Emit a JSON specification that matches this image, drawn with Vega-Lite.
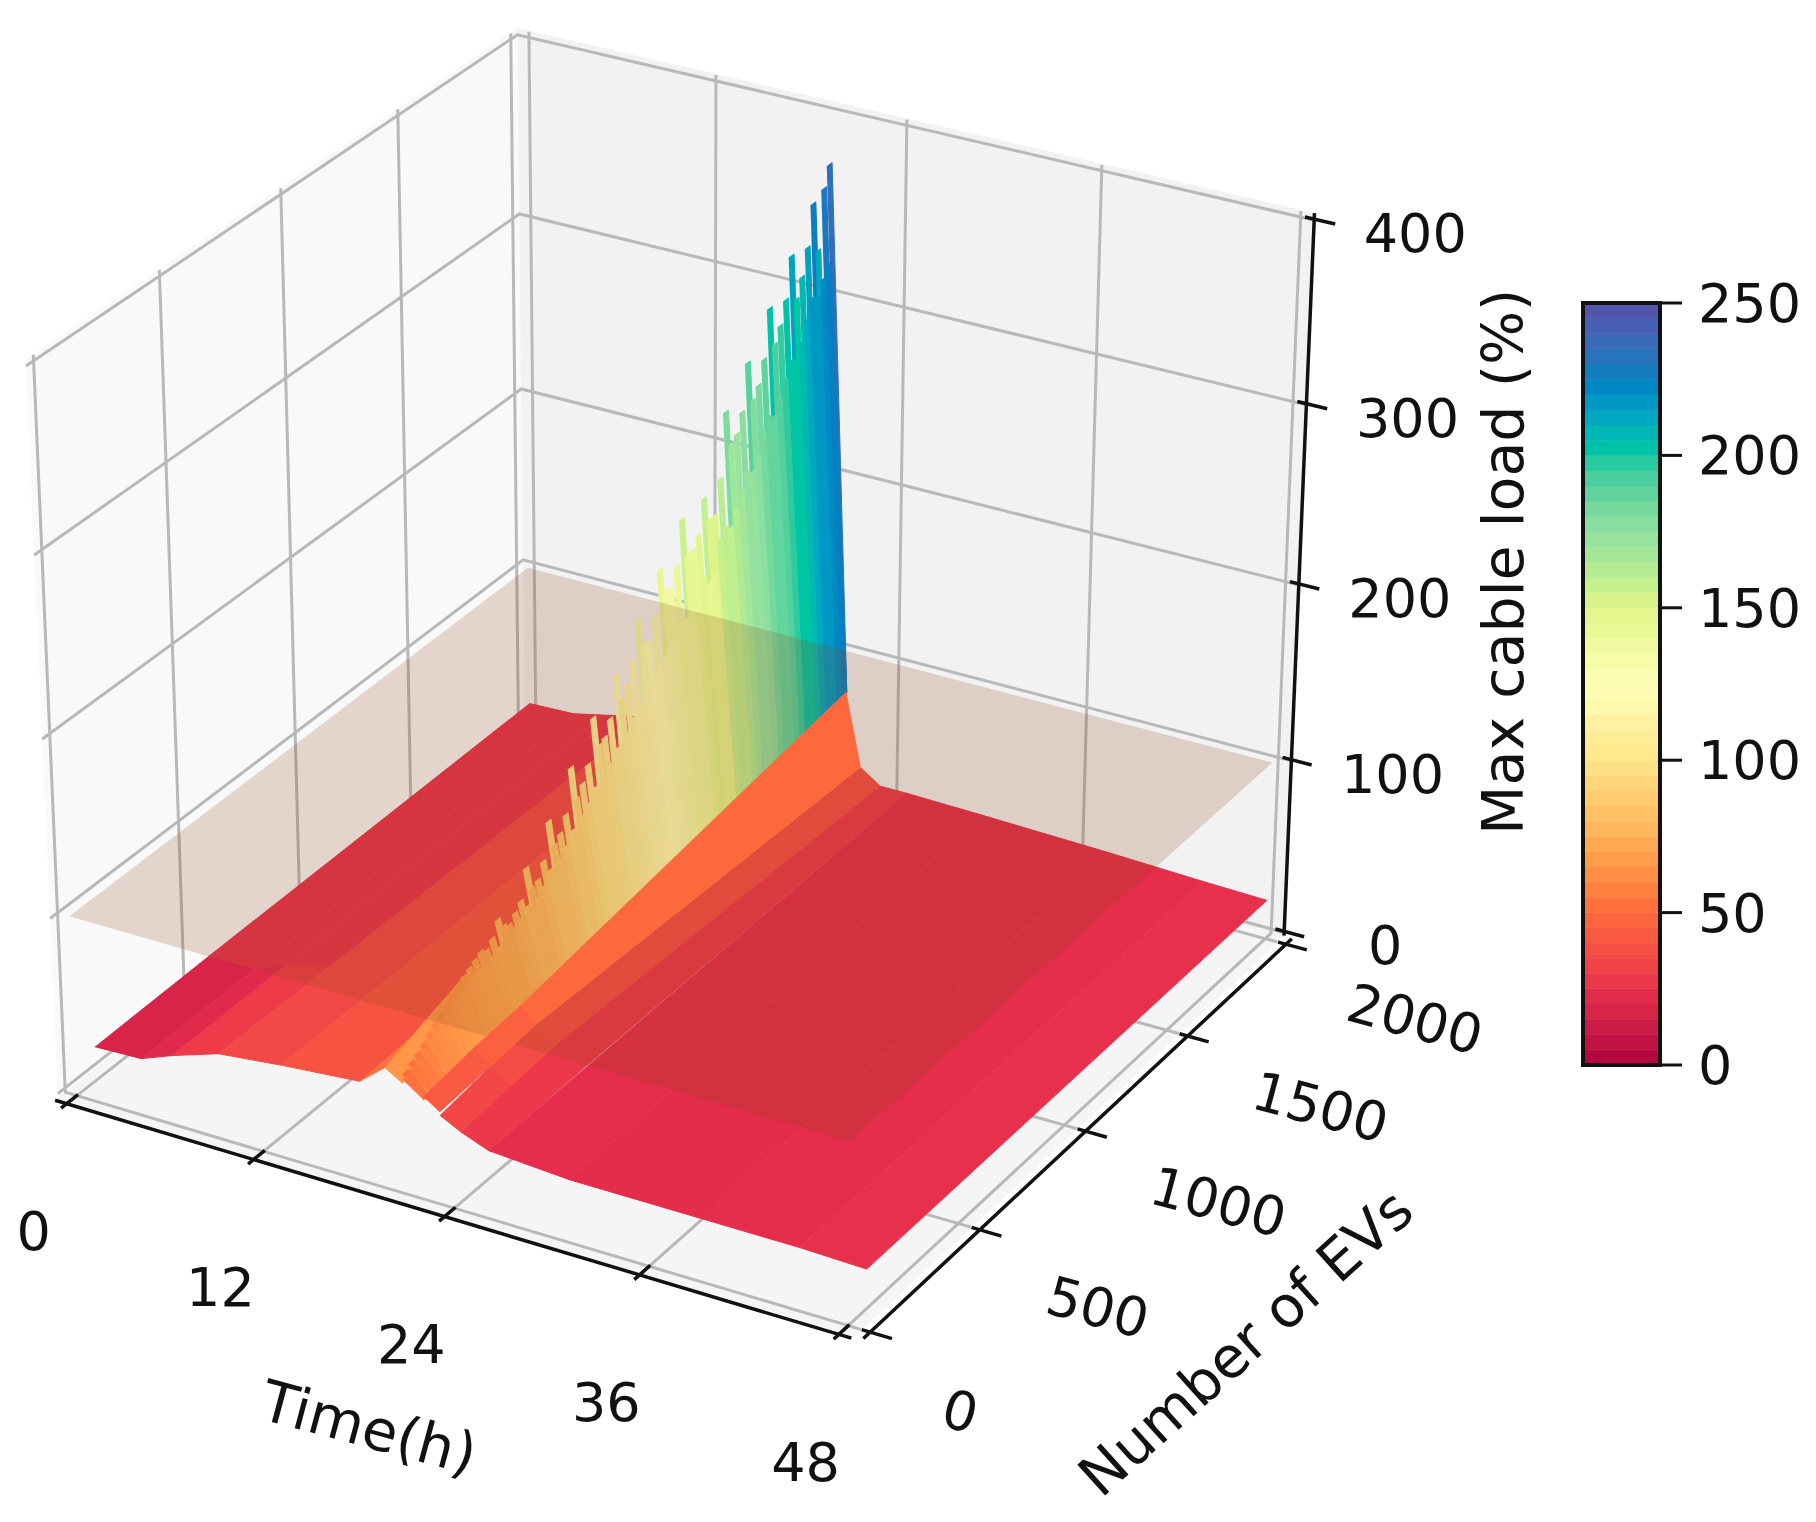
{"$schema":"https://vega.github.io/schema/vega-lite/v6.json","width":1816,"height":1522,"padding":0,"autosize":{"type":"none"},"background":"white","config":{"view":{"stroke":null},"text":{"font":"DejaVu Sans"}},
"datasets":{"scene":[
{"k":"pl","id":"pl","t":[-0.75,-0.75,-0.75,-0.75],"n":[-30,2030,2030,-30],"z":[-2.5,-2.5,403.2,403.2]},
{"k":"pb","id":"pb","t":[-0.75,48.75,48.75,-0.75],"n":[2030,2030,2030,2030],"z":[-2.5,-2.5,403.2,403.2]},
{"k":"pf","id":"pf","t":[-0.75,48.75,48.75,-0.75],"n":[-30,-30,2030,2030],"z":[-2.5,-2.5,-2.5,-2.5]},
{"k":"g","id":"gt0","t":[0,0,0],"n":[-30,2030,2030],"z":[-2.5,-2.5,403.2]},
{"k":"g","id":"gt12","t":[12,12,12],"n":[-30,2030,2030],"z":[-2.5,-2.5,403.2]},
{"k":"g","id":"gt24","t":[24,24,24],"n":[-30,2030,2030],"z":[-2.5,-2.5,403.2]},
{"k":"g","id":"gt36","t":[36,36,36],"n":[-30,2030,2030],"z":[-2.5,-2.5,403.2]},
{"k":"g","id":"gt48","t":[48,48,48],"n":[-30,2030,2030],"z":[-2.5,-2.5,403.2]},
{"k":"g","id":"gn0","t":[-0.75,-0.75,48.75],"n":[0,0,0],"z":[403.2,-2.5,-2.5]},
{"k":"g","id":"gn500","t":[-0.75,-0.75,48.75],"n":[500,500,500],"z":[403.2,-2.5,-2.5]},
{"k":"g","id":"gn1000","t":[-0.75,-0.75,48.75],"n":[1000,1000,1000],"z":[403.2,-2.5,-2.5]},
{"k":"g","id":"gn1500","t":[-0.75,-0.75,48.75],"n":[1500,1500,1500],"z":[403.2,-2.5,-2.5]},
{"k":"g","id":"gn2000","t":[-0.75,-0.75,48.75],"n":[2000,2000,2000],"z":[403.2,-2.5,-2.5]},
{"k":"g","id":"gz0","t":[48.75,-0.75,-0.75],"n":[2030,2030,-30],"z":[0,0,0]},
{"k":"g","id":"gz100","t":[48.75,-0.75,-0.75],"n":[2030,2030,-30],"z":[100,100,100]},
{"k":"g","id":"gz200","t":[48.75,-0.75,-0.75],"n":[2030,2030,-30],"z":[200,200,200]},
{"k":"g","id":"gz300","t":[48.75,-0.75,-0.75],"n":[2030,2030,-30],"z":[300,300,300]},
{"k":"g","id":"gz400","t":[48.75,-0.75,-0.75],"n":[2030,2030,-30],"z":[400,400,400]},
{"k":"a","id":"at","t":[-0.75,48.75],"n":[-42,-42],"z":[-2.5,-2.5]},
{"k":"a","id":"an","t":[49.3,49.3],"n":[-30,2030],"z":[-2.5,-2.5]},
{"k":"a","id":"az","t":[48.75,48.75],"n":[2035,2035],"z":[-2.5,403.2]},
{"k":"a","id":"tt0","t":[0,0],"n":[-65,5],"z":[-2.5,-2.5]},
{"k":"a","id":"tt12","t":[12,12],"n":[-65,5],"z":[-2.5,-2.5]},
{"k":"a","id":"tt24","t":[24,24],"n":[-65,5],"z":[-2.5,-2.5]},
{"k":"a","id":"tt36","t":[36,36],"n":[-65,5],"z":[-2.5,-2.5]},
{"k":"a","id":"tt48","t":[48,48],"n":[-65,5],"z":[-2.5,-2.5]},
{"k":"a","id":"tn0","t":[48.8,50.6],"n":[0,0],"z":[-2.5,-2.5]},
{"k":"a","id":"tn500","t":[48.8,50.6],"n":[500,500],"z":[-2.5,-2.5]},
{"k":"a","id":"tn1000","t":[48.8,50.6],"n":[1000,1000],"z":[-2.5,-2.5]},
{"k":"a","id":"tn1500","t":[48.8,50.6],"n":[1500,1500],"z":[-2.5,-2.5]},
{"k":"a","id":"tn2000","t":[48.8,50.6],"n":[2000,2000],"z":[-2.5,-2.5]},
{"k":"a","id":"tz0","t":[48.2,50],"n":[2035,2035],"z":[0,0]},
{"k":"a","id":"tz100","t":[48.2,50],"n":[2035,2035],"z":[100,100]},
{"k":"a","id":"tz200","t":[48.2,50],"n":[2035,2035],"z":[200,200]},
{"k":"a","id":"tz300","t":[48.2,50],"n":[2035,2035],"z":[300,300]},
{"k":"a","id":"tz400","t":[48.2,50],"n":[2035,2035],"z":[400,400]},
{"k":"s","id":"s01","t":[0,3,3,0],"n":[80,80,560,560],"z":[17,18,18,18]},
{"k":"s","id":"s13","t":[0,3,3,0],"n":[560,560,2000,2000],"z":[18,18,20,19],"c":25},
{"k":"s","id":"s02","t":[3,5,5,3],"n":[80,80,560,560],"z":[18,25,25,18]},
{"k":"s","id":"s14","t":[3,5,5,3],"n":[560,560,2000,2000],"z":[18,25,24,20],"c":26},
{"k":"s","id":"s03","t":[5,8,8,5],"n":[80,80,560,560],"z":[25,34,33,25]},
{"k":"s","id":"s15","t":[5,8,8,5],"n":[560,560,2000,2000],"z":[25,33,30,24],"c":26},
{"k":"s","id":"s04","t":[8,12,12,8],"n":[80,80,2000,2000],"z":[34,38,38,30]},
{"k":"s","id":"s05","t":[12,17,17,12],"n":[80,80,2000,2000],"z":[38,42,40,38]},
{"k":"s","id":"s06","t":[17,18.6,18.6,17],"n":[400,400,2000,2000],"z":[44,38,38,40]},
{"k":"s","id":"s07","t":[18.6,19.7,19.7,18.6],"n":[400,400,2000,2000],"z":[38,38,38,38]},
{"k":"s","id":"s08","t":[17,18.6,18.6,17],"n":[80,80,400,400],"z":[42,54,68,44]},
{"k":"s","id":"s09","t":[18.6,19.7,19.7,18.6],"n":[80,80,400,400],"z":[54,48,78,68],"c":65},
{"k":"f","id":"f04","t":[22,23.3,23.3,22],"n":[500,500,2000,2000],"z":[42,34,26,34],"c":37},
{"k":"f","id":"f05","t":[22,23.3,23.3,22],"n":[80,80,300,300],"z":[36,30,31,40]},
{"k":"f","id":"f12","t":[22,23.3,23.3,22],"n":[300,300,500,500],"z":[40,31,34,42]},
{"k":"f","id":"f06","t":[23.3,25,25,23.3],"n":[80,80,500,500],"z":[30,24,25,34]},
{"k":"f","id":"f07","t":[23.3,25,25,23.3],"n":[500,500,2000,2000],"z":[34,25,26,26],"c":28},
{"k":"f","id":"f08","t":[25,30,30,25],"n":[80,80,2000,2000],"z":[24,21,25,26]},
{"k":"f","id":"f09","t":[30,38,38,30],"n":[80,80,2000,2000],"z":[21,21,23,25],"c":23},
{"k":"f","id":"f10","t":[38,44,44,38],"n":[80,80,2000,2000],"z":[21,21,21,23],"c":24},
{"k":"f","id":"f11","t":[44,48,48,44],"n":[80,80,2000,2000],"z":[21,20,20,21],"c":25},
{"k":"plane","id":"plane","t":[0,48,48,0],"n":[0,0,2000,2000],"z":[100,100,100,100]},
{"k":"f2","id":"f03","t":[21,22,22,21],"n":[80,80,300,300],"z":[44,38,40,48]},
{"k":"f2","id":"f02","t":[21,22,22,21],"n":[300,300,500,500],"z":[48,40,42,50],"c":46},
{"k":"f2","id":"f01","t":[21,22,22,21],"n":[500,500,2000,2000],"z":[50,42,34,76],"c":49},
{"k":"tt","id":"l1","label":"0","t":[0],"n":[-30],"z":[-2.5]},
{"k":"tt","id":"l2","label":"12","t":[12],"n":[-30],"z":[-2.5]},
{"k":"tt","id":"l3","label":"24","t":[24],"n":[-30],"z":[-2.5]},
{"k":"tt","id":"l4","label":"36","t":[36],"n":[-30],"z":[-2.5]},
{"k":"tt","id":"l5","label":"48","t":[48],"n":[-30],"z":[-2.5]},
{"k":"tn","id":"l6","label":"0","t":[47.8],"n":[-100],"z":[4]},
{"k":"tn","id":"l7","label":"500","t":[48.75],"n":[450],"z":[1.5]},
{"k":"tn","id":"l8","label":"1000","t":[48.75],"n":[1020],"z":[-2.5]},
{"k":"tn","id":"l9","label":"1500","t":[48.75],"n":[1520],"z":[-2.5]},
{"k":"tn","id":"l10","label":"2000","t":[48.75],"n":[2000],"z":[-2.5]},
{"k":"tz","id":"l11","label":"0","t":[48.75],"n":[2030],"z":[0]},
{"k":"tz","id":"l12","label":"100","t":[48.75],"n":[2030],"z":[100]},
{"k":"tz","id":"l13","label":"200","t":[48.75],"n":[2030],"z":[200]},
{"k":"tz","id":"l14","label":"300","t":[48.75],"n":[2030],"z":[300]},
{"k":"tz","id":"l15","label":"400","t":[48.75],"n":[2030],"z":[400]},
{"k":"xt","id":"l16","label":"Time(h)","t":[24],"n":[-30],"z":[-2.5]},
{"k":"yt","id":"l17","label":"Number of EVs","t":[48.75],"n":[1000],"z":[-2.5]},
{"k":"zt","id":"l18","label":"Max cable load (%)","t":[48.75],"n":[2030],"z":[200]}
],
"wall":[
{"n0":80,"z1":53,"e":50,"b":42},{"n0":105,"z1":56,"e":52,"b":43},{"n0":130,"z1":58,"e":54,"b":44},{"n0":155,"z1":61,"e":57,"b":44},{"n0":180,"z1":64,"e":60,"b":45},{"n0":205,"z1":67,"e":62,"b":45},{"n0":230,"z1":70,"e":64,"b":45},{"n0":255,"z1":72,"e":66,"b":46},{"n0":280,"z1":75,"e":68,"b":46},{"n0":305,"z1":78,"e":70,"b":46},{"n0":330,"z1":80,"e":72,"b":46},{"n0":355,"z1":82,"e":74,"b":47},{"n0":380,"z1":84,"e":75,"b":47},{"n0":405,"z1":86,"e":76,"b":47},{"n0":430,"z1":84,"e":76,"b":48},{"n0":455,"z1":88,"e":78,"b":48},{"n0":480,"z1":96,"e":80,"b":49},{"n0":505,"z1":90,"e":80,"b":49},{"n0":530,"z1":88,"e":80,"b":49},{"n0":555,"z1":92,"e":84,"b":49},{"n0":580,"z1":96,"e":86,"b":50},{"n0":605,"z1":112,"e":90,"b":50},{"n0":630,"z1":98,"e":88,"b":50},{"n0":655,"z1":100,"e":90,"b":50},{"n0":680,"z1":108,"e":94,"b":50},{"n0":705,"z1":128,"e":100,"b":50},{"n0":730,"z1":112,"e":100,"b":50},{"n0":755,"z1":116,"e":102,"b":50},{"n0":780,"z1":124,"e":106,"b":50},{"n0":805,"z1":148,"e":112,"b":50},{"n0":830,"z1":128,"e":112,"b":50},{"n0":855,"z1":134,"e":116,"b":50},{"n0":880,"z1":142,"e":120,"b":50},{"n0":905,"z1":166,"e":126,"b":50},{"n0":930,"z1":148,"e":126,"b":50},{"n0":955,"z1":150,"e":128,"b":50},{"n0":980,"z1":158,"e":132,"b":51},{"n0":1005,"z1":180,"e":138,"b":52},{"n0":1030,"z1":164,"e":138,"b":52},{"n0":1055,"z1":170,"e":142,"b":53},{"n0":1080,"z1":180,"e":148,"b":53},{"n0":1105,"z1":201,"e":152,"b":54},{"n0":1130,"z1":186,"e":152,"b":55},{"n0":1155,"z1":184,"e":156,"b":55},{"n0":1180,"z1":196,"e":160,"b":56},{"n0":1205,"z1":219,"e":166,"b":56},{"n0":1230,"z1":206,"e":168,"b":57},{"n0":1255,"z1":204,"e":172,"b":58},{"n0":1280,"z1":214,"e":176,"b":58},{"n0":1305,"z1":238,"e":182,"b":59},{"n0":1330,"z1":216,"e":180,"b":59},{"n0":1355,"z1":216,"e":182,"b":60},{"n0":1380,"z1":222,"e":190,"b":61},{"n0":1405,"z1":240,"e":196,"b":61},{"n0":1430,"z1":226,"e":190,"b":62},{"n0":1455,"z1":226,"e":192,"b":62},{"n0":1480,"z1":244,"e":210,"b":63},{"n0":1505,"z1":279,"e":214,"b":64},{"n0":1530,"z1":258,"e":212,"b":64},{"n0":1555,"z1":262,"e":220,"b":65},{"n0":1580,"z1":272,"e":228,"b":65},{"n0":1605,"z1":297,"e":236,"b":66},{"n0":1630,"z1":274,"e":234,"b":67},{"n0":1655,"z1":280,"e":240,"b":67},{"n0":1680,"z1":292,"e":250,"b":68},{"n0":1705,"z1":318,"e":258,"b":68},{"n0":1730,"z1":296,"e":256,"b":69},{"n0":1755,"z1":304,"e":262,"b":70},{"n0":1780,"z1":316,"e":272,"b":70},{"n0":1805,"z1":338,"e":280,"b":71},{"n0":1830,"z1":312,"e":278,"b":71},{"n0":1855,"z1":322,"e":286,"b":72},{"n0":1880,"z1":336,"e":296,"b":73},{"n0":1905,"z1":358,"e":306,"b":73},{"n0":1930,"z1":330,"e":304,"b":74},{"n0":1955,"z1":362,"e":312,"b":74},{"n0":1980,"z1":373,"e":318,"b":75}
],
"cbticks":[{"cb":0},{"cb":50},{"cb":100},{"cb":150},{"cb":200},{"cb":250}],
"cbbar":[{"v":0},{"v":5},{"v":10},{"v":15},{"v":20},{"v":25},{"v":30},{"v":35},{"v":40},{"v":45},{"v":50},{"v":55},{"v":60},{"v":65},{"v":70},{"v":75},{"v":80},{"v":85},{"v":90},{"v":95},{"v":100},{"v":105},{"v":110},{"v":115},{"v":120},{"v":125},{"v":130},{"v":135},{"v":140},{"v":145},{"v":150},{"v":155},{"v":160},{"v":165},{"v":170},{"v":175},{"v":180},{"v":185},{"v":190},{"v":195},{"v":200},{"v":205},{"v":210},{"v":215},{"v":220},{"v":225},{"v":230},{"v":235},{"v":240},{"v":245}],
"cbframe":[{"lo":0,"hi":250}]},
"encoding":{"x":{"field":"sx","type":"quantitative","scale":{"domain":[0,1816],"nice":false,"zero":false},"axis":null},"y":{"field":"sy","type":"quantitative","scale":{"domain":[1522,0],"nice":false,"zero":false},"axis":null}},
"layer":[
{"data":{"name":"scene"},"transform":[
{"calculate":"datum.c?datum.c:(length(datum.z)==4?(datum.z[0]+datum.z[1]+datum.z[2]+datum.z[3])/4:0)","as":"v"},
{"flatten":["t","n","z"]},
{"window":[{"op":"row_number","as":"i"}],"groupby":["id"]},
{"calculate":"(datum.t+0.75)/49.5-0.5","as":"fx"},{"calculate":"(datum.n+30)/2060-0.5","as":"gy"},{"calculate":"(datum.z+2.5)/405.7-0.5","as":"hz"},
{"calculate":"10-(0.433*datum.fx-0.75*datum.gy+0.5*datum.hz)","as":"d"},
{"calculate":"680+9190*(0.866*datum.fx+0.5*datum.gy)/datum.d","as":"sx"},
{"calculate":"660-8426*(-0.25*datum.fx+0.433*datum.gy+0.866*datum.hz)/datum.d","as":"sy"}],
"layer":[
{"transform":[{"filter":"datum.k=='pl'"}],"mark":{"type":"line"},"encoding":{"order":{"field":"i"},"fill":{"value":"#f9f9f9"},"stroke":{"value":"#f9f9f9"}}},
{"transform":[{"filter":"datum.k=='pb'"}],"mark":{"type":"line"},"encoding":{"order":{"field":"i"},"fill":{"value":"#f2f2f2"},"stroke":{"value":"#f2f2f2"}}},
{"transform":[{"filter":"datum.k=='pf'"}],"mark":{"type":"line"},"encoding":{"order":{"field":"i"},"fill":{"value":"#f5f5f5"},"stroke":{"value":"#f5f5f5"}}},
{"transform":[{"filter":"datum.k=='g'"}],"mark":{"type":"line","strokeWidth":3},"encoding":{"order":{"field":"i"},"detail":{"field":"id"},"stroke":{"value":"#b8b8b8"}}},
{"transform":[{"filter":"datum.k=='a'"}],"mark":{"type":"line","strokeWidth":3.5},"encoding":{"order":{"field":"i"},"detail":{"field":"id"},"stroke":{"value":"#111111"}}},
{"transform":[{"filter":"datum.k=='s'"}],"mark":{"type":"line","strokeWidth":1},"encoding":{"order":{"field":"i"},"detail":{"field":"id"},
"fill":{"field":"v","type":"quantitative","legend":null,"scale":{"domain":[0,25,50,75,100,125,150,175,200,225,250],"range":["#b00040","#e8304c","#ff6a3c","#ffb058","#ffe58a","#ffffb8","#e0f588","#90e0a0","#00c8a0","#0080c0","#5a50a8"]}},
"stroke":{"field":"v","type":"quantitative","legend":null,"scale":{"domain":[0,25,50,75,100,125,150,175,200,225,250],"range":["#b00040","#e8304c","#ff6a3c","#ffb058","#ffe58a","#ffffb8","#e0f588","#90e0a0","#00c8a0","#0080c0","#5a50a8"]}}}}
]},
{"data":{"name":"wall"},"transform":[
{"fold":["z1","e"],"as":["key","top"]},
{"calculate":"datum.key+datum.n0","as":"id"},
{"calculate":"datum.key=='e'?1.15*(datum.top+datum.b)/2:1.05*(datum.top+datum.b)/2","as":"v"},
{"calculate":"[19.7,19.7,21,21]","as":"t"},
{"calculate":"[datum.n0,datum.n0+25,datum.n0+25,datum.n0]","as":"n"},
{"calculate":"[datum.top,datum.top,datum.b,datum.b]","as":"z"},
{"flatten":["t","n","z"]},
{"window":[{"op":"row_number","as":"i"}],"groupby":["id"]},
{"calculate":"(datum.t+0.75)/49.5-0.5","as":"fx"},{"calculate":"(datum.n+30)/2060-0.5","as":"gy"},{"calculate":"(datum.z+2.5)/405.7-0.5","as":"hz"},
{"calculate":"10-(0.433*datum.fx-0.75*datum.gy+0.5*datum.hz)","as":"d"},
{"calculate":"680+9190*(0.866*datum.fx+0.5*datum.gy)/datum.d","as":"sx"},
{"calculate":"660-8426*(-0.25*datum.fx+0.433*datum.gy+0.866*datum.hz)/datum.d","as":"sy"}],
"mark":{"type":"line","strokeWidth":1},"encoding":{"order":{"field":"i"},"detail":{"field":"id"},"fill":{"field":"v","type":"quantitative","legend":null},"stroke":{"field":"v","type":"quantitative","legend":null}}},
{"data":{"name":"scene"},"transform":[
{"calculate":"datum.c?datum.c:(length(datum.z)==4?(datum.z[0]+datum.z[1]+datum.z[2]+datum.z[3])/4:0)","as":"v"},
{"flatten":["t","n","z"]},
{"window":[{"op":"row_number","as":"i"}],"groupby":["id"]},
{"calculate":"(datum.t+0.75)/49.5-0.5","as":"fx"},{"calculate":"(datum.n+30)/2060-0.5","as":"gy"},{"calculate":"(datum.z+2.5)/405.7-0.5","as":"hz"},
{"calculate":"10-(0.433*datum.fx-0.75*datum.gy+0.5*datum.hz)","as":"d"},
{"calculate":"680+9190*(0.866*datum.fx+0.5*datum.gy)/datum.d","as":"sx"},
{"calculate":"660-8426*(-0.25*datum.fx+0.433*datum.gy+0.866*datum.hz)/datum.d","as":"sy"}],
"layer":[
{"transform":[{"filter":"datum.k=='f'"}],"mark":{"type":"line","strokeWidth":1},"encoding":{"order":{"field":"i"},"detail":{"field":"id"},"fill":{"field":"v","type":"quantitative","legend":null},"stroke":{"field":"v","type":"quantitative","legend":null}}},
{"transform":[{"filter":"datum.k=='plane'"}],"mark":{"type":"line","strokeWidth":0},"encoding":{"order":{"field":"i"},"fill":{"value":"#8b4513"},"fillOpacity":{"value":0.2},"stroke":{"value":"#8b4513"}}},
{"transform":[{"filter":"datum.k=='f2'"}],"mark":{"type":"line","strokeWidth":1},"encoding":{"order":{"field":"i"},"detail":{"field":"id"},"fill":{"field":"v","type":"quantitative","legend":null},"stroke":{"field":"v","type":"quantitative","legend":null}}},
{"transform":[{"filter":"datum.k=='tt'"}],"mark":{"type":"text","fontSize":54,"font":"DejaVu Sans","xOffset":-36,"yOffset":133,"color":"#111111"},"encoding":{"text":{"field":"label"}}},
{"transform":[{"filter":"datum.k=='tn'"}],"mark":{"type":"text","fontSize":54,"font":"DejaVu Sans","angle":15,"xOffset":137,"yOffset":80,"color":"#111111"},"encoding":{"text":{"field":"label"}}},
{"transform":[{"filter":"datum.k=='tz'"}],"mark":{"type":"text","fontSize":54,"font":"DejaVu Sans","xOffset":102,"yOffset":16,"color":"#111111"},"encoding":{"text":{"field":"label"}}},
{"transform":[{"filter":"datum.k=='xt'"}],"mark":{"type":"text","fontSize":57,"font":"DejaVu Sans","angle":15,"xOffset":-79,"yOffset":216,"color":"#111111"},"encoding":{"text":{"field":"label"}}},
{"transform":[{"filter":"datum.k=='yt'"}],"mark":{"type":"text","fontSize":57,"font":"DejaVu Sans","angle":-42,"xOffset":171,"yOffset":216,"color":"#111111"},"encoding":{"text":{"field":"label"}}},
{"transform":[{"filter":"datum.k=='zt'"}],"mark":{"type":"text","fontSize":57,"font":"DejaVu Sans","angle":-90,"xOffset":208,"yOffset":-23,"color":"#111111"},"encoding":{"text":{"field":"label"}}}
]},
{"data":{"name":"cbbar"},"transform":[{"calculate":"1583","as":"sx"},{"calculate":"1660","as":"sx2"},{"calculate":"1065-datum.v/250*762","as":"sy"},{"calculate":"1065-(datum.v+5)/250*762","as":"sy2"},{"calculate":"datum.v+2.5","as":"w"}],"mark":{"type":"rect","strokeWidth":0.6},"encoding":{"x2":{"field":"sx2"},"y2":{"field":"sy2"},"fill":{"field":"w","type":"quantitative","legend":null},"stroke":{"field":"w","type":"quantitative","legend":null}}},
{"data":{"name":"cbframe"},"transform":[{"calculate":"1583","as":"sx"},{"calculate":"1660","as":"sx2"},{"calculate":"1065-datum.lo/250*762","as":"sy"},{"calculate":"1065-datum.hi/250*762","as":"sy2"}],"mark":{"type":"rect","fillOpacity":0,"stroke":"#111111","strokeWidth":4},"encoding":{"x2":{"field":"sx2"},"y2":{"field":"sy2"}}},
{"data":{"name":"cbticks"},"transform":[{"calculate":"1660","as":"sx"},{"calculate":"1682","as":"sx2"},{"calculate":"1065-datum.cb/250*762","as":"sy"}],"layer":[
{"mark":{"type":"rule","strokeWidth":3,"color":"#111111"},"encoding":{"x2":{"field":"sx2"},"y2":{"field":"sy"}}},
{"mark":{"type":"text","fontSize":54,"font":"DejaVu Sans","align":"left","baseline":"middle","xOffset":38,"yOffset":3,"color":"#111111"},"encoding":{"text":{"field":"cb","type":"quantitative"}}}
]}
]}
